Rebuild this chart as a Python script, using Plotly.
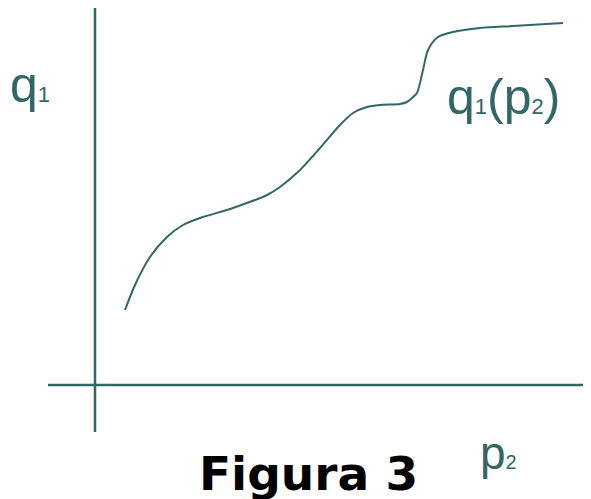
import plotly.graph_objects as go

# Curve q1(p2) (p2 from the vertical axis, q1 above the horizontal axis)
p2 = [30, 40, 55, 72, 88, 105, 138, 172, 185, 205, 225, 245, 258, 272, 285, 305, 312, 318, 322, 328, 333, 343, 358, 385, 418, 468]
q1 = [75, 100, 128, 148, 160, 167, 177, 190, 198, 215, 237, 260, 272, 278, 280, 281, 283, 288, 292, 315, 335, 348, 353, 357, 359, 362]

COLOR = "#336666"

fig = go.Figure()
fig.add_trace(go.Scatter(x=p2, y=q1, mode="lines",
                         line=dict(color=COLOR, width=2, shape="spline", smoothing=0.8),
                         hoverinfo="skip", showlegend=False))

# axes lines
fig.add_shape(type="line", xref="x", yref="y", x0=0, x1=0, y0=-47, y1=378,
              line=dict(color=COLOR, width=2.5))
fig.add_shape(type="line", xref="x", yref="y", x0=-47, x1=500, y0=0, y1=0,
              line=dict(color=COLOR, width=2.5))

big = "Arial, 'Liberation Sans', sans-serif"
fig.add_annotation(x=0.0, y=0.782, xref="paper", yref="paper", xanchor="left", yanchor="bottom",
                   text='q<span style="font-size:22px">1</span>', showarrow=False,
                   font=dict(family=big, size=50, color=COLOR))
fig.add_annotation(x=350, y=258, xref="x", yref="y", xanchor="left", yanchor="bottom",
                   text='q<span style="font-size:22px">1</span>(p<span style="font-size:22px">2</span>)',
                   showarrow=False, font=dict(family=big, size=50, color=COLOR))
fig.add_annotation(x=383, y=-96, xref="x", yref="y", xanchor="left", yanchor="bottom",
                   text='p<span style="font-size:20px">2</span>', showarrow=False,
                   font=dict(family=big, size=46, color=COLOR))
fig.add_annotation(x=213, y=-88, xref="x", yref="y", xanchor="center", yanchor="middle",
                   text="<b>Figura 3</b>", showarrow=False,
                   font=dict(family="'DejaVu Sans', sans-serif", size=47, color="#000000"))

fig.update_layout(width=583, height=491, margin=dict(l=0, r=0, t=0, b=0),
                  paper_bgcolor="white", plot_bgcolor="white",
                  xaxis=dict(range=[-87, 496], visible=False, fixedrange=True),
                  yaxis=dict(range=[-114, 377], visible=False, fixedrange=True))

fig.write_html("out.html")
